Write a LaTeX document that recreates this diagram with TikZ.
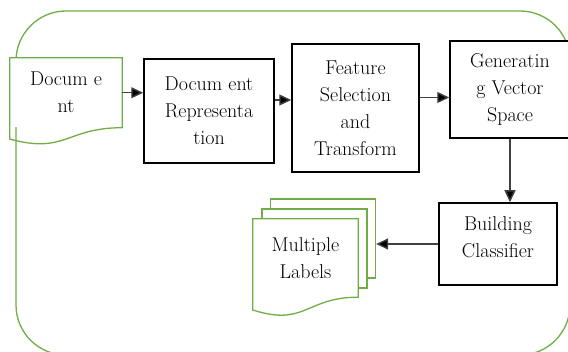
\documentclass[tikz,border=0pt]{standalone}
\usepackage{tikz}
\usetikzlibrary{arrows.meta}
\usetikzlibrary{calc}
\definecolor{docgreen}{HTML}{70AD47}

% outline of a document page: straight top and sides, wavy bottom
\newcommand{\docwave}[3]{\draw[docline] (#1.north west) -- (#1.north east) -- (#1.south east) .. controls (#1.south) and ([yshift=-#2]#1.south) .. ([yshift=-#3]#1.south west) -- cycle;}

\begin{document}
\begin{tikzpicture}[x=1pt, y=-1pt,
  every node/.style={inner sep=0pt, align=center, font=\fontsize{20}{27}\selectfont},
  stepbox/.style={draw=black, line width=1.5pt, fill=white},
  docline/.style={draw=docgreen, line width=1.3pt},
  pagebox/.style={draw=docgreen, line width=1.3pt, fill=white, minimum width=105pt, minimum height=79pt},
  flow/.style={draw=black!75, line width=1.4pt, -{Triangle[length=12pt, width=11pt, fill=black]}}]
\useasboundingbox (0,0) rectangle (568,352);

% frame round the whole process
\draw[docline, rounded corners=50pt] (16,11) rectangle (570,355);

% input document
\node[minimum width=112pt, minimum height=69.5pt, fill=white] (Doc) at (66,92.75) {Docum e\\nt};
\docwave{Doc}{26.5pt}{11.4pt}

% processing steps
\node[stepbox, minimum width=130pt, minimum height=104pt] (Rep) at (209,111) {Docum ent\\Representa\\tion};
\node[stepbox, minimum width=127pt, minimum height=128pt] (Feat) at (355.5,108) {Feature\\Selection\\and\\Transform};
\node[stepbox, minimum width=120pt, minimum height=97pt] (Gen) at (510,89.5) {Generatin\\g Vector\\Space};
\node[stepbox, minimum width=118pt, minimum height=82pt, text depth=14pt] (Build) at (498,244) {Building\\Classifier};

% stack of output pages
\node[pagebox] (Lab3) at (323,238.5) {};
\node[pagebox] (Lab2) at (314.5,248.5) {};
\node[minimum width=105pt, minimum height=78pt, fill=white] (Lab1) at (305.5,258) {Multiple\\Labels};
\docwave{Lab1}{29.7pt}{12.8pt}

\draw[flow] (Doc.east) -- (Doc.east -| Rep.west);
\draw[flow] ([yshift=11pt]Rep.east) -- ([yshift=11pt]Rep.east -| Feat.west);
\draw[flow] ([yshift=-8pt]Gen.west -| Feat.east) -- ([yshift=-8pt]Gen.west);
\draw[flow] (Gen.south) -- (Gen.south |- Build.north);
\draw[flow] (Build.west) -- (Build.west -| Lab3.east);
\end{tikzpicture}
\end{document}
